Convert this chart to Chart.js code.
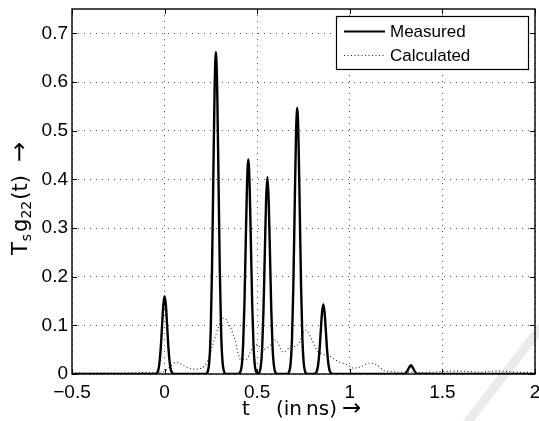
<!DOCTYPE html>
<html>
<head>
<meta charset="utf-8">
<script src="https://cdn.jsdelivr.net/npm/chart.js@4.4.1/dist/chart.umd.min.js"></script>
<style>
html, body { margin: 0; padding: 0; background: #fff; }
canvas { display: block; }
</style>
</head>
<body>
<canvas id="chart" width="539" height="421"></canvas>
<script>
// pulse response, t in ns
const measuredT = [-0.5, -0.055, -0.045, -0.035, -0.028, -0.021, -0.014, -0.007, 0, 0.007, 0.014, 0.021, 0.028, 0.035, 0.045, 0.055,
    0.222, 0.232, 0.242, 0.249, 0.256, 0.263, 0.270, 0.277, 0.284, 0.291, 0.298, 0.305, 0.312, 0.322, 0.332,
    0.397, 0.407, 0.417, 0.424, 0.431, 0.438, 0.445, 0.452, 0.459, 0.466, 0.473, 0.480, 0.487, 0.497, 0.503,
    0.510, 0.520, 0.527, 0.534, 0.541, 0.548, 0.555, 0.562, 0.569, 0.576, 0.583, 0.590, 0.600, 0.610,
    0.661, 0.671, 0.681, 0.688, 0.695, 0.702, 0.709, 0.716, 0.723, 0.730, 0.737, 0.744, 0.751, 0.761, 0.771,
    0.802, 0.812, 0.822, 0.829, 0.836, 0.843, 0.850, 0.857, 0.864, 0.871, 0.878, 0.885, 0.892, 0.902, 0.912,
    1.295, 1.31, 1.32, 1.33, 1.34, 1.35, 1.365, 2];
const measuredG = [0, 0, 0.001, 0.007, 0.022, 0.052, 0.097, 0.141, 0.160, 0.141, 0.097, 0.052, 0.022, 0.007, 0.001, 0,
    0, 0.004, 0.029, 0.089, 0.215, 0.402, 0.584, 0.662, 0.584, 0.402, 0.215, 0.089, 0.029, 0.004, 0,
    0, 0.003, 0.019, 0.060, 0.143, 0.268, 0.389, 0.441, 0.389, 0.268, 0.143, 0.060, 0.019, 0.003, 0.002,
    0.002, 0.018, 0.055, 0.132, 0.246, 0.357, 0.405, 0.357, 0.246, 0.132, 0.055, 0.018, 0.002, 0,
    0, 0.003, 0.024, 0.074, 0.178, 0.332, 0.482, 0.547, 0.482, 0.332, 0.178, 0.074, 0.024, 0.003, 0,
    0, 0.001, 0.006, 0.019, 0.046, 0.087, 0.126, 0.143, 0.126, 0.087, 0.046, 0.019, 0.006, 0.001, 0,
    0, 0.006, 0.013, 0.018, 0.013, 0.006, 0, 0];

const calculatedT = [-0.5, -0.4, -0.3, -0.2, -0.1, -0.05, 0, 0.03, 0.06, 0.09, 0.12, 0.16, 0.2, 0.23, 0.26, 0.29, 0.32,
    0.35, 0.38, 0.41, 0.44, 0.47, 0.5, 0.53, 0.56, 0.6, 0.64, 0.68, 0.72, 0.76, 0.79, 0.82, 0.86, 0.9, 0.94, 0.98,
    1.02, 1.06, 1.1, 1.14, 1.18, 1.22, 1.3, 1.4, 1.5, 1.6, 1.7, 1.8, 1.9, 2];
const calculatedG = [0.002, 0.002, 0.002, 0.002, 0.003, 0.003, 0.006, 0.015, 0.024, 0.02, 0.014, 0.01, 0.012, 0.025, 0.06, 0.095, 0.115,
    0.1, 0.07, 0.03, 0.03, 0.05, 0.06, 0.05, 0.055, 0.07, 0.045, 0.055, 0.06, 0.09, 0.075, 0.05, 0.04, 0.035, 0.025, 0.02,
    0.012, 0.015, 0.022, 0.02, 0.008, 0.005, 0.004, 0.003, 0.005, 0.006, 0.004, 0.006, 0.004, 0.003];

const seriesNames = ['Measured', 'Calculated'];
const xTicks = [-0.5, 0, 0.5, 1, 1.5, 2];
const yTicks = [0, 0.1, 0.2, 0.3, 0.4, 0.5, 0.6, 0.7];

function pts(ts, gs) {
    return ts.map((t, i) => ({x: t, y: gs[i]}));
}

function fmt(v) {
    const s = String(Number(Math.abs(v).toFixed(2)));
    return v < 0 ? '\u2212' + s : s;
}

// draws pieces of text one after another, subscripts smaller and lowered
function drawPieces(ctx, pieces, x, y) {
    let cx = x;
    pieces.forEach(p => {
        ctx.font = (p.size || 20) + 'px "DejaVu Sans"';
        ctx.fillText(p.text, cx, y + (p.dy || 0));
        cx += ctx.measureText(p.text).width + (p.gap || 0);
    });
}

const framePlugin = {
    id: 'frame',
    afterDraw(chart) {
        const ctx = chart.ctx;
        const a = chart.chartArea;
        const xs = chart.scales.x, ys = chart.scales.y;
        ctx.save();

        // inward ticks on all four sides
        ctx.strokeStyle = '#000';
        ctx.lineWidth = 1;
        ctx.beginPath();
        xTicks.forEach(v => {
            const px = Math.round(xs.getPixelForValue(v)) + 0.5;
            ctx.moveTo(px, a.bottom); ctx.lineTo(px, a.bottom - 5);
            ctx.moveTo(px, a.top); ctx.lineTo(px, a.top + 5);
        });
        yTicks.forEach(v => {
            const py = Math.round(ys.getPixelForValue(v)) + 0.5;
            ctx.moveTo(a.left, py); ctx.lineTo(a.left + 5, py);
            ctx.moveTo(a.right, py); ctx.lineTo(a.right - 5, py);
        });
        ctx.stroke();
        ctx.lineWidth = 1.4;
        ctx.strokeRect(a.left, a.top, a.right - a.left, a.bottom - a.top);

        // legend box
        const lx = 336, ly = 16, lw = 192, lh = 53;
        ctx.fillStyle = '#fff';
        ctx.fillRect(lx, ly, lw, lh);
        ctx.lineWidth = 1.2;
        ctx.strokeRect(lx + 0.5, ly + 0.5, lw, lh);
        chart.data.datasets.forEach((ds, i) => {
            const yy = ly + 15 + i * 24;
            ctx.strokeStyle = ds.borderColor;
            ctx.lineWidth = i === 0 ? 2 : 1;
            ctx.setLineDash(ds.borderDash || []);
            ctx.beginPath();
            ctx.moveTo(lx + 8, yy + 0.5);
            ctx.lineTo(lx + 49, yy + 0.5);
            ctx.stroke();
            ctx.setLineDash([]);
            ctx.fillStyle = '#000';
            ctx.font = '17px "Liberation Sans"';
            ctx.textBaseline = 'middle';
            ctx.textAlign = 'left';
            ctx.fillText(ds.label, lx + 54, yy + 1);
        });

        // axis titles
        ctx.fillStyle = '#000';
        ctx.textBaseline = 'alphabetic';
        ctx.textAlign = 'left';
        drawPieces(ctx, [{text: 't'}], 242, 415);
        drawPieces(ctx, [{text: '(in\u2009ns)', gap: 5}, {text: '\u2192', size: 23}], 276, 415);

        ctx.save();
        ctx.translate(27, 255);
        ctx.rotate(-Math.PI / 2);
        drawPieces(ctx, [
            {text: 'T', size: 21, gap: 1},
            {text: 's', size: 14, dy: 4, gap: 2},
            {text: 'g', size: 21},
            {text: '22', size: 14, dy: 4, gap: 1},
            {text: '(t)', size: 21, gap: 13},
            {text: '\u2192', size: 24}
        ], 0, 0);
        ctx.restore();

        // light grey brush stroke across the corner
        ctx.strokeStyle = 'rgba(0,0,0,0.08)';
        ctx.lineWidth = 9;
        ctx.lineCap = 'round';
        ctx.beginPath();
        ctx.moveTo(542, 326);
        ctx.lineTo(466, 424);
        ctx.stroke();

        ctx.restore();
    }
};

new Chart(document.getElementById('chart'), {
    type: 'line',
    data: {
        datasets: [{
            label: seriesNames[0],
            data: pts(measuredT, measuredG),
            borderColor: '#000',
            borderWidth: 2.4,
            pointRadius: 0,
            cubicInterpolationMode: 'monotone'
        }, {
            label: seriesNames[1],
            data: pts(calculatedT, calculatedG),
            borderColor: '#222',
            borderWidth: 1.1,
            borderDash: [1, 2.5],
            pointRadius: 0,
            cubicInterpolationMode: 'monotone'
        }]
    },
    options: {
        responsive: false,
        animation: false,
        devicePixelRatio: 1,
        layout: {padding: {left: 0, top: 9, right: 4, bottom: 0}},
        plugins: {legend: {display: false}, tooltip: {enabled: false}},
        scales: {
            x: {
                type: 'linear',
                min: -0.5,
                max: 2,
                afterBuildTicks: s => { s.ticks = xTicks.map(v => ({value: v})); },
                afterFit: s => { s.height = 47; s.paddingLeft = 0; s.paddingRight = 0; },
                grid: {color: '#555', lineWidth: 1, drawTicks: false},
                border: {display: false, dash: [1, 5]},
                ticks: {
                    color: '#000',
                    padding: 7,
                    maxRotation: 0,
                    font: {family: 'Liberation Sans', size: 19},
                    callback: v => fmt(v)
                }
            },
            y: {
                min: 0,
                max: 0.75,
                afterBuildTicks: s => { s.ticks = yTicks.map(v => ({value: v})); },
                afterFit: s => { s.width = 72; s.paddingTop = 0; s.paddingBottom = 0; },
                grid: {color: '#555', lineWidth: 1, drawTicks: false},
                border: {display: false, dash: [1, 5]},
                ticks: {
                    color: '#000',
                    padding: 4,
                    font: {family: 'Liberation Sans', size: 19},
                    callback: v => fmt(v)
                }
            }
        }
    },
    plugins: [framePlugin]
});
</script>
</body>
</html>
